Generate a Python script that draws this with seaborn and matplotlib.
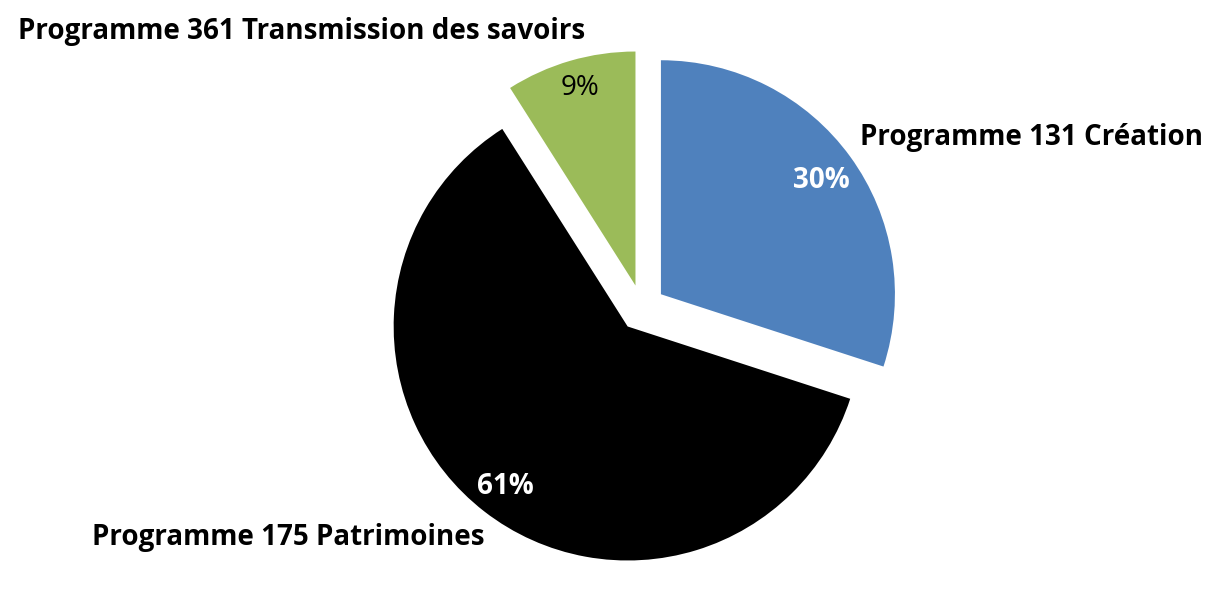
import matplotlib
matplotlib.use("Agg")
import matplotlib.pyplot as plt
import seaborn as sns

# Data
programmes = ['Programme 131 Création', 'Programme 175 Patrimoines',
              'Programme 361 Transmission des savoirs']
shares = [30, 61, 9]
pct_labels = ['30%', '61%', '9%']
colors = ['#4F81BD', '#000000', '#9BBB59']

sns.set_theme(style="white")
plt.rcParams['font.family'] = ['Open Sans', 'DejaVu Sans']

W, H = 1224, 601
fig = plt.figure(figsize=(W / 100, H / 100), dpi=100)

# pie centre / radius in pixels
cx, cy, R = 642, 308, 234
half = 1.2 * R
ax = fig.add_axes([(cx - half) / W, (H - cy - half) / H, 2 * half / W, 2 * half / H])
ax.pie(shares, colors=colors, startangle=90, counterclock=False,
       explode=[0.1] * len(shares), radius=1.0,
       wedgeprops={'linewidth': 0})
ax.set_xlim(-1.2, 1.2)
ax.set_ylim(-1.2, 1.2)
ax.axis('off')

# label placement (pixel centres)
name_pos = [(1031, 137), (288, 537), (302, 32)]
pct_pos = [(821, 180), (505, 487), (580, 88)]
pct_style = [('white', 'bold'), ('white', 'bold'), ('black', 'normal')]

for name, (x, y) in zip(programmes, name_pos):
    fig.text(x / W, 1 - y / H, name, ha='center', va='center',
             fontsize=20, fontweight='bold', color='black')

for lab, (x, y), (c, w) in zip(pct_labels, pct_pos, pct_style):
    fig.text(x / W, 1 - y / H, lab, ha='center', va='center',
             fontsize=20, fontweight=w, color=c)

fig.savefig('out.png', dpi=100)
